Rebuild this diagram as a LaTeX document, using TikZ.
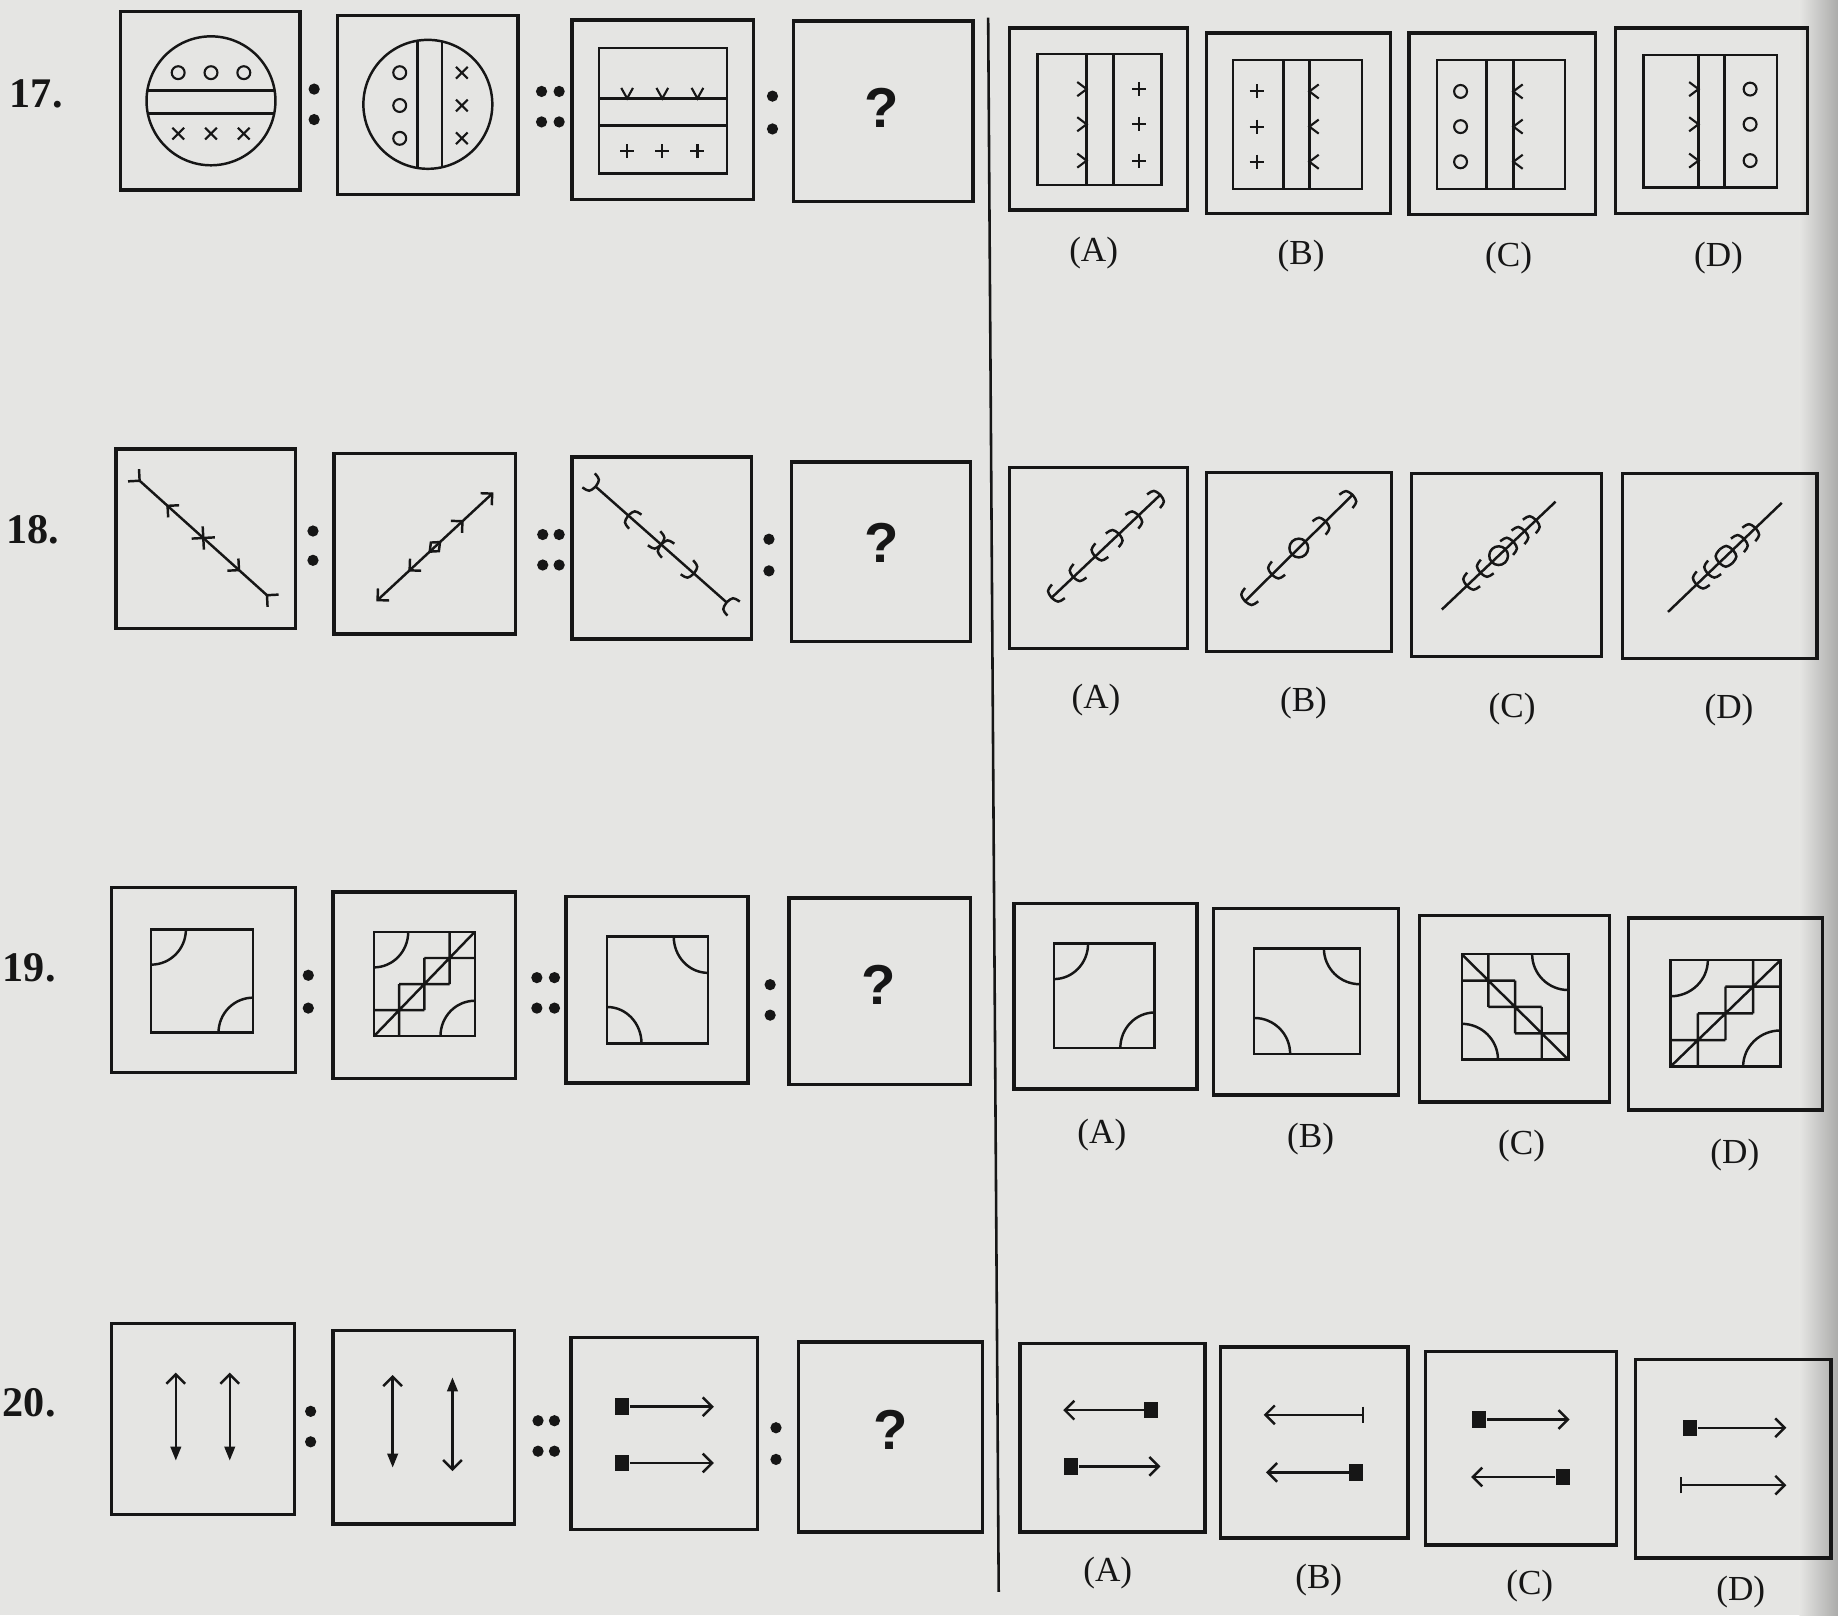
\documentclass[tikz,border=0pt]{standalone}
\usepackage{fontspec}
\setmainfont{Liberation Serif}
\newfontfamily\qsans{Liberation Sans}
\usetikzlibrary{arrows.meta,decorations.markings}
\definecolor{paper}{RGB}{229,229,227}
\definecolor{ink}{RGB}{22,22,22}
\tikzset{
  frame/.style={draw=ink,line width=1.45pt},
  fig/.style={draw=ink,line width=1.05pt},
  sym/.style={draw=ink,line width=0.9pt},
  dotmark/.style={circle,fill=ink,inner sep=0pt,minimum size=4.8pt},
  qnum/.style={font=\fontsize{18}{20}\selectfont\bfseries,text=ink,anchor=west,inner sep=0pt},
  optlab/.style={font=\fontsize{15}{18}\selectfont,text=ink},
  qmark/.style={font=\qsans\fontsize{24}{26}\selectfont\bfseries,text=ink},
  blk/.style={fill=ink,inner sep=0pt,minimum width=6pt,minimum height=7pt},
  openhead/.style={fig,-{Straight Barb[length=4pt,width=8pt]}},
}
% row 17 symbols
\newcommand{\symO}[2]{\draw[sym] (#1,#2) circle[radius=5.5];}
\newcommand{\symX}[2]{\draw[sym,shift={(#1,#2)}] (-5,-5) -- (5,5) (-5,5) -- (5,-5);}
\newcommand{\symP}[2]{\draw[sym,shift={(#1,#2)}] (-6,0) -- (6,0) (0,-6) -- (0,6);}
\newcommand{\symV}[2]{\draw[sym,shift={(#1,#2)}] (-5,-9) -- (0,0) -- (5,-9);}
\newcommand{\symR}[2]{\draw[sym,shift={(#1,#2)}] (-8,-6) -- (0,0) -- (-8,6);}
\newcommand{\symL}[2]{\draw[sym,shift={(#1,#2)}] (8,-6) -- (0,0) -- (8,6);}
% row 18 marks
\newcommand{\mkF}{\draw[fig] (-7,7) -- (0,0) -- (-7,-7);}
\newcommand{\mkB}{\draw[fig] (7,7) -- (0,0) -- (7,-7);}
\newcommand{\mkCF}{\draw[fig] (-8,8) .. controls (-1,7) .. (0,0) .. controls (-1,-7) .. (-8,-8);}
\newcommand{\mkCB}{\draw[fig] (8,8) .. controls (1,7) .. (0,0) .. controls (1,-7) .. (8,-8);}
\newcommand{\mkD}{\draw[fig] (-6,0) -- (0,5) -- (6,0) -- (0,-5) -- cycle;}
\newcommand{\mkO}{\draw[fig] (0,0) circle[radius=8];}
% row 19 figures (normalised, y up)
\newcommand{\arcBox}{\draw[fig] (0,0) rectangle (1,1);
  \draw[fig] (0,0.66) arc[start angle=-90,end angle=0,radius=0.34];
  \draw[fig] (0.66,0) arc[start angle=180,end angle=90,radius=0.34];}
\newcommand{\stairs}{\draw[fig] (0,0) -- (1,1) (0.75,1) -- (0.75,0.5) (0.5,0.75) -- (1,0.75)
  (0.5,0.75) -- (0.5,0.25) (0.25,0.5) -- (0.75,0.5) (0.25,0.5) -- (0.25,0) (0,0.25) -- (0.5,0.25);}
\begin{document}
\begin{tikzpicture}[x=0.5pt,y=-0.5pt]
\useasboundingbox (0,0) rectangle (1568,1378);
\fill[paper] (0,0) rectangle (1568,1378);
\shade[left color=paper,right color=paper!75!black] (1535,0) rectangle (1568,1378);

% divider
\draw[ink,line width=1.1pt] (843,15) -- (852,1358);

% question numbers
\node[qnum] (n17) at (8,80) {17.};
\node[qnum] (n18) at (5,452) {18.};
\node[qnum] (n19) at (2,826) {19.};
\node[qnum] (n20) at (2,1197) {20.};

% ================= ROW 17 =================
\draw[frame] (103,10) rectangle (256,162);
\draw[frame] (288,13) rectangle (442,166);
\draw[frame] (488,17) rectangle (643,170);
\draw[frame] (677,18) rectangle (830,172);
\node[dotmark] (c17a) at (268,76) {}; \node[dotmark] (c17b) at (268,102) {};
\node[dotmark] (d17a) at (462,78) {}; \node[dotmark] (d17b) at (477,78) {};
\node[dotmark] (d17c) at (462,104) {}; \node[dotmark] (d17d) at (477,104) {};
\node[dotmark] (e17a) at (659,82) {}; \node[dotmark] (e17b) at (659,110) {};
\node[qmark] (q17) at (752,92) {?};
% Q1
\draw[fig] (180,86) circle[radius=55];
\draw[fig] (126,77) -- (234,77) (126,97) -- (234,97);
\foreach \x in {152,180,208} {\symO{\x}{62}\symX{\x}{114}}
% Q2
\draw[fig] (365,89) circle[radius=55];
\draw[fig] (356,35) -- (356,143) (377,36) -- (377,142);
\foreach \y in {62,90,118} {\symO{341}{\y}\symX{394}{\y}}
% Q3
\draw[fig] (511,41) rectangle (620,148);
\draw[fig] (511,84) -- (620,84) (511,107) -- (620,107);
\foreach \x in {535,565,595} {\symV{\x}{84}\symP{\x}{129}}
% options
\draw[frame] (861,24) rectangle (1013,179);
\draw[fig] (885,46) rectangle (991,158) (927,46) -- (927,158) (950,46) -- (950,158);
\foreach \y in {76,106,137} {\symR{927}{\y}\symP{972}{\y}}
\draw[frame] (1029,28) rectangle (1186,182);
\draw[fig] (1052,51) rectangle (1162,161) (1095,51) -- (1095,161) (1117,51) -- (1117,161);
\foreach \y in {78,108,138} {\symP{1072}{\y}\symL{1117}{\y}}
\draw[frame] (1202,28) rectangle (1361,183);
\draw[fig] (1226,51) rectangle (1335,161) (1268,51) -- (1268,161) (1291,51) -- (1291,161);
\foreach \y in {78,108,138} {\symO{1246}{\y}\symL{1291}{\y}}
\draw[frame] (1378,24) rectangle (1542,182);
\draw[fig] (1402,47) rectangle (1516,160) (1449,47) -- (1449,160) (1471,47) -- (1471,160);
\foreach \y in {76,106,137} {\symR{1449}{\y}\symO{1493}{\y}}
\node[optlab] (l17a) at (933,216) {(A)};
\node[optlab] (l17b) at (1110,218) {(B)};
\node[optlab] (l17c) at (1287,220) {(C)};
\node[optlab] (l17d) at (1466,220) {(D)};

% ================= ROW 18 =================
\draw[frame] (99,383) rectangle (252,536);
\draw[frame] (285,387) rectangle (440,541);
\draw[frame] (488,390) rectangle (641,545);
\draw[frame] (675,394) rectangle (828,547);
\node[dotmark] (c18a) at (267,453) {}; \node[dotmark] (c18b) at (267,478) {};
\node[dotmark] (d18a) at (463,456) {}; \node[dotmark] (d18b) at (477,456) {};
\node[dotmark] (d18c) at (463,482) {}; \node[dotmark] (d18d) at (477,482) {};
\node[dotmark] (e18a) at (656,460) {}; \node[dotmark] (e18b) at (656,487) {};
\node[qmark] (q18) at (752,463) {?};
\draw[fig,postaction={decorate},decoration={markings,
  mark=at position 0.001 with {\mkF}, mark=at position 0.22 with {\mkB},
  mark=at position 0.5 with {\mkF\mkB}, mark=at position 0.78 with {\mkF},
  mark=at position 0.999 with {\mkB}}] (119,410) -- (228,508);
\draw[fig,postaction={decorate},decoration={markings,
  mark=at position 0.001 with {\mkB}, mark=at position 0.28 with {\mkB},
  mark=at position 0.5 with {\mkD}, mark=at position 0.74 with {\mkF},
  mark=at position 0.999 with {\mkF}}] (322,512) -- (420,421);
\draw[fig,postaction={decorate},decoration={markings,
  mark=at position 0.001 with {\mkCF}, mark=at position 0.25 with {\mkCB},
  mark=at position 0.5 with {\mkCF\mkCB}, mark=at position 0.75 with {\mkCF},
  mark=at position 0.999 with {\mkCB}}] (508,415) -- (620,514);
% options
\draw[frame] (861,399) rectangle (1013,553);
\draw[frame] (1029,403) rectangle (1187,556);
\draw[frame] (1204,404) rectangle (1366,560);
\draw[frame] (1384,404) rectangle (1550,562);
\draw[fig,postaction={decorate},decoration={markings,
  mark=at position 0.001 with {\mkCB}, mark=at position 0.2 with {\mkCB},
  mark=at position 0.4 with {\mkCB}, mark=at position 0.62 with {\mkCF},
  mark=at position 0.8 with {\mkCF}, mark=at position 0.999 with {\mkCF}}] (897,510) -- (990,422);
\draw[fig,postaction={decorate},decoration={markings,
  mark=at position 0.001 with {\mkCB}, mark=at position 0.25 with {\mkCB},
  mark=at position 0.5 with {\mkO}, mark=at position 0.75 with {\mkCF},
  mark=at position 0.999 with {\mkCF}}] (1062,513) -- (1154,422);
\draw[fig,postaction={decorate},decoration={markings,
  mark=at position 0.22 with {\mkCB}, mark=at position 0.34 with {\mkCB},
  mark=at position 0.5 with {\mkO}, mark=at position 0.63 with {\mkCF},
  mark=at position 0.73 with {\mkCF}, mark=at position 0.83 with {\mkCF}}] (1230,520) -- (1327,428);
\draw[fig,postaction={decorate},decoration={markings,
  mark=at position 0.25 with {\mkCB}, mark=at position 0.35 with {\mkCB},
  mark=at position 0.45 with {\mkCB}, mark=at position 0.57 with {\mkCF},
  mark=at position 0.67 with {\mkCF}, mark=at position 0.77 with {\mkCF}}] (1423,522) -- (1520,429);
\node[optlab] (l18a) at (935,597) {(A)};
\node[optlab] (l18b) at (1112,600) {(B)};
\node[optlab] (l18c) at (1290,605) {(C)};
\node[optlab] (l18d) at (1475,606) {(D)};

% ================= ROW 19 =================
\draw[frame] (95,757) rectangle (252,915);
\draw[frame] (284,761) rectangle (440,920);
\draw[frame] (483,765) rectangle (638,924);
\draw[frame] (673,766) rectangle (828,925);
\node[dotmark] (c19a) at (263,832) {}; \node[dotmark] (c19b) at (263,860) {};
\node[dotmark] (d19a) at (458,834) {}; \node[dotmark] (d19b) at (473,834) {};
\node[dotmark] (d19c) at (458,860) {}; \node[dotmark] (d19d) at (473,860) {};
\node[dotmark] (e19a) at (657,840) {}; \node[dotmark] (e19b) at (657,866) {};
\node[qmark] (q19) at (750,840) {?};
\begin{scope}[shift={(129,881)},xscale=87,yscale=-88]\arcBox\end{scope}
\begin{scope}[shift={(319,884)},xscale=86,yscale=-89]\arcBox\stairs\end{scope}
\begin{scope}[shift={(604,890)},xscale=-86,yscale=-91]\arcBox\end{scope}
\draw[frame] (865,771) rectangle (1021,929);
\draw[frame] (1035,775) rectangle (1193,934);
\draw[frame] (1211,781) rectangle (1373,940);
\draw[frame] (1389,783) rectangle (1555,947);
\begin{scope}[shift={(899,894)},xscale=86,yscale=-89]\arcBox\end{scope}
\begin{scope}[shift={(1160,899)},xscale=-90,yscale=-90]\arcBox\end{scope}
\begin{scope}[shift={(1338,904)},xscale=-91,yscale=-90]\arcBox\stairs\end{scope}
\begin{scope}[shift={(1425,910)},xscale=94,yscale=-91]\arcBox\stairs\end{scope}
\node[optlab] (l19a) at (940,968) {(A)};
\node[optlab] (l19b) at (1118,972) {(B)};
\node[optlab] (l19c) at (1298,978) {(C)};
\node[optlab] (l19d) at (1480,985) {(D)};

% ================= ROW 20 =================
\draw[frame] (95,1129) rectangle (251,1292);
\draw[frame] (284,1135) rectangle (439,1300);
\draw[frame] (487,1141) rectangle (646,1305);
\draw[frame] (681,1145) rectangle (838,1307);
\node[dotmark] (c20a) at (265,1204) {}; \node[dotmark] (c20b) at (265,1230) {};
\node[dotmark] (d20a) at (459,1212) {}; \node[dotmark] (d20b) at (473,1212) {};
\node[dotmark] (d20c) at (459,1238) {}; \node[dotmark] (d20d) at (473,1238) {};
\node[dotmark] (e20a) at (662,1218) {}; \node[dotmark] (e20b) at (662,1245) {};
\node[qmark] (q20) at (760,1220) {?};
\draw[fig,{Straight Barb[length=4pt,width=8pt]}-{Triangle[length=6pt,width=4.5pt]}] (150,1171) -- (150,1246);
\draw[fig,{Straight Barb[length=4pt,width=8pt]}-{Triangle[length=6pt,width=4.5pt]}] (196,1171) -- (196,1246);
\draw[fig,{Straight Barb[length=4pt,width=8pt]}-{Triangle[length=6pt,width=4.5pt]}] (335,1173) -- (335,1252);
\draw[fig,{Triangle[length=6pt,width=4.5pt]}-{Straight Barb[length=4pt,width=8pt]}] (386,1175) -- (386,1255);
\node[blk] (s3a) at (531,1200) {}; \coordinate (t3a) at (609,1200);
\node[blk] (s3b) at (531,1248) {}; \coordinate (t3b) at (609,1248);
\draw[openhead] (s3a) -- (t3a);
\draw[openhead] (s3b) -- (t3b);
% options
\draw[frame] (870,1146) rectangle (1028,1307);
\draw[frame] (1041,1149) rectangle (1201,1312);
\draw[frame] (1216,1153) rectangle (1379,1318);
\draw[frame] (1395,1160) rectangle (1562,1329);
% A
\node[blk] (sAa) at (982,1203) {}; \coordinate (tAa) at (907,1203);
\node[blk] (sAb) at (914,1251) {}; \coordinate (tAb) at (990,1251);
\draw[openhead] (sAa) -- (tAa);
\draw[openhead] (sAb) -- (tAb);
% B
\coordinate (bBa) at (1164,1207); \coordinate (tBa) at (1078,1207);
\draw[fig,{Bar[width=7pt]}-{Straight Barb[length=4pt,width=8pt]}] (bBa) -- (tBa);
\node[blk] (sBb) at (1157,1256) {}; \coordinate (tBb) at (1080,1256);
\draw[openhead] (sBb) -- (tBb);
% C
\node[blk] (sCa) at (1262,1211) {}; \coordinate (tCa) at (1339,1211);
\node[blk] (sCb) at (1333,1260) {}; \coordinate (tCb) at (1255,1260);
\draw[openhead] (sCa) -- (tCa);
\draw[openhead] (sCb) -- (tCb);
% D
\node[blk] (sDa) at (1442,1218) {}; \coordinate (tDa) at (1524,1218);
\coordinate (bDb) at (1433,1267); \coordinate (tDb) at (1524,1267);
\draw[openhead] (sDa) -- (tDa);
\draw[fig,{Bar[width=7pt]}-{Straight Barb[length=4pt,width=8pt]}] (bDb) -- (tDb);
\node[optlab] (l20a) at (945,1342) {(A)};
\node[optlab] (l20b) at (1125,1348) {(B)};
\node[optlab] (l20c) at (1305,1353) {(C)};
\node[optlab] (l20d) at (1485,1358) {(D)};
\end{tikzpicture}
\end{document}
